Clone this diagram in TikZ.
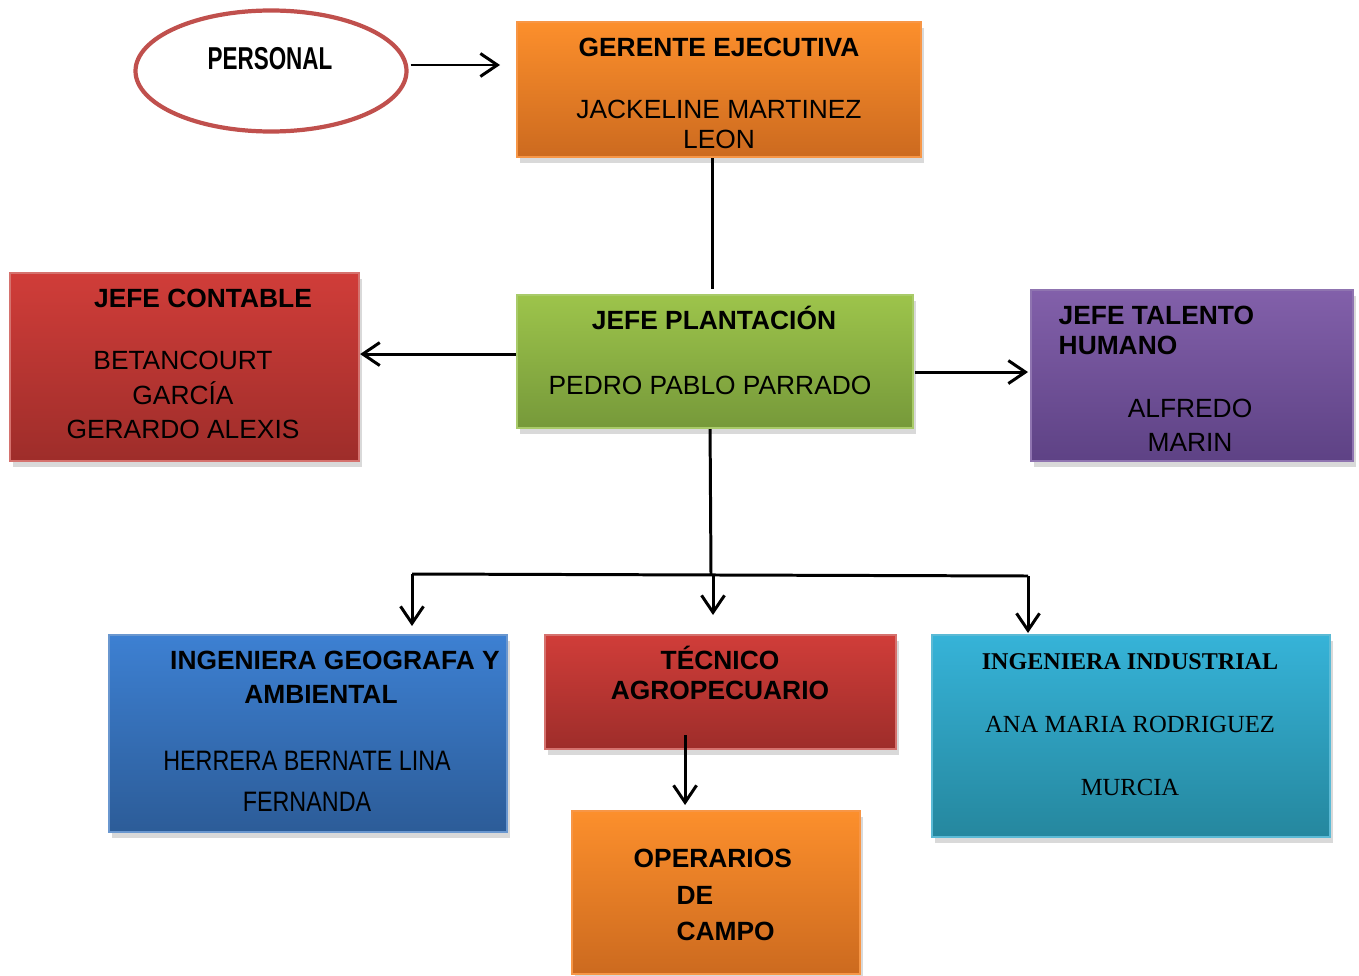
\documentclass[tikz,border=0pt]{standalone}
\usepackage{fontspec}
\setmainfont{Liberation Sans}
\newfontfamily\indserif{Liberation Serif}
\newfontfamily\narrowsans[FakeStretch=0.83]{Liberation Sans}
\newfontfamily\personalsans[FakeStretch=0.71]{Liberation Sans}
\usetikzlibrary{positioning,shapes.geometric,shadows,arrows.meta}

\definecolor{orangetop}{HTML}{FC8F2C}
\definecolor{orangebot}{HTML}{CC6A1F}
\definecolor{orangeline}{HTML}{F79646}
\definecolor{greentop}{HTML}{9DC44B}
\definecolor{greenbot}{HTML}{76993A}
\definecolor{greenline}{HTML}{A9CB6A}
\definecolor{redtop}{HTML}{D03D39}
\definecolor{redbot}{HTML}{9E2D2A}
\definecolor{redline}{HTML}{D5726E}
\definecolor{purpletop}{HTML}{8260AA}
\definecolor{purplebot}{HTML}{5E4285}
\definecolor{purpleline}{HTML}{8F74B0}
\definecolor{bluetop}{HTML}{3D80D2}
\definecolor{bluebot}{HTML}{2C5C98}
\definecolor{blueline}{HTML}{6A97CF}
\definecolor{tealtop}{HTML}{36B3D8}
\definecolor{tealbot}{HTML}{25879E}
\definecolor{tealline}{HTML}{5BBAD5}
\definecolor{personalline}{HTML}{C0504D}

\begin{document}
\begin{tikzpicture}[x=0.1mm, y=-0.1mm,
				box/.style={rectangle, anchor=north west, line width=0.6pt, inner sep=0pt, drop shadow={shadow xshift=0.3mm, shadow yshift=-0.6mm, opacity=0.3}},
				orangebox/.style={box, draw=orangeline, top color=orangetop, bottom color=orangebot},
				greenbox/.style={box, draw=greenline, top color=greentop, bottom color=greenbot},
				redbox/.style={box, draw=redline, top color=redtop, bottom color=redbot},
				purplebox/.style={box, draw=purpleline, top color=purpletop, bottom color=purplebot},
				bluebox/.style={box, draw=blueline, top color=bluetop, bottom color=bluebot},
				tealbox/.style={box, draw=tealline, top color=tealtop, bottom color=tealbot},
				titletext/.style={font=\bfseries\fontsize{7.5}{#1}\selectfont, align=center, inner sep=0pt},
				titletext/.default=8.5,
				nametext/.style={font=\fontsize{7.5}{#1}\selectfont, align=center, inner sep=0pt},
				nametext/.default=8.5,
				link/.style={line width=0.85pt},
				arr/.style={link, -{Straight Barb[length=1.7mm,width=2.3mm]}}
			]
			\useasboundingbox (0,0) rectangle (1359,975);
			\node[ellipse, draw=personalline, line width=1.2pt, minimum width=27.1mm, minimum height=12.1mm, inner sep=0pt] (personal) at (271,71) {};
			\node[font=\personalsans\bfseries\fontsize{9}{10}\selectfont, inner sep=0pt] (personaltext) at (270,59) {PERSONAL};
			\node[orangebox, minimum width=40.4mm, minimum height=13.5mm] (gerente) at (516,21) {};
			\node[greenbox, minimum width=39.6mm, minimum height=13.3mm] (plantacion) at (516,294) {};
			\node[redbox, minimum width=34.9mm, minimum height=18.8mm] (contable) at (9,272) {};
			\node[purplebox, minimum width=32.2mm, minimum height=17.1mm] (talento) at (1030,289) {};
			\node[bluebox, minimum width=39.8mm, minimum height=19.7mm] (geografa) at (108,634) {};
			\node[redbox, minimum width=35.1mm, minimum height=11.4mm] (tecnico) at (544,634) {};
			\node[orangebox, minimum width=28.8mm, minimum height=16.3mm] (operarios) at (571,810) {};
			\node[tealbox, minimum width=39.8mm, minimum height=20.2mm] (industrial) at (931,634) {};
			\node[titletext] (gerentetitle) at (719,47) {GERENTE EJECUTIVA};
			\node[nametext] (gerentename) at (719,124) {JACKELINE MARTINEZ\\LEON};
			\node[titletext] (plantaciontitle) at (714,318) {JEFE PLANTACIÓN};
			\node[nametext] (plantacionname) at (710,385) {PEDRO PABLO PARRADO};
			\node[titletext] (contabletitle) at (203,298) {JEFE CONTABLE};
			\node[nametext=9.8] (contablename) at (183,395) {BETANCOURT\\GARCÍA\\GERARDO ALEXIS};
			\node[titletext, align=left, anchor=west] (talentotitle) at (1058,330) {JEFE TALENTO\\HUMANO};
			\node[nametext=9.7] (talentoname) at (1190,425) {ALFREDO\\MARIN};
			\node[titletext] (geografatitle) at (335,660) {INGENIERA GEOGRAFA Y};
			\node[titletext] (geografatitletwo) at (321,694) {AMBIENTAL};
			\node[nametext, font=\narrowsans\fontsize{8}{11.7}\selectfont] (geografaname) at (307,781) {HERRERA BERNATE LINA\\FERNANDA};
			\node[titletext] (tecnicotitle) at (720,673) {TÉCNICO\\AGROPECUARIO};
			\node[titletext=10.5, align=left, anchor=west] (operariostitle) at (633,895) {OPERARIOS\\\hspace*{12.2pt}DE\\\hspace*{12.2pt}CAMPO};
			\node[titletext, font=\indserif\bfseries\fontsize{6.85}{8}\selectfont] (industrialtitle) at (1130,662) {INGENIERA INDUSTRIAL};
			\node[nametext, font=\indserif\fontsize{7}{17.8}\selectfont] (industrialname) at (1130,756) {ANA MARIA RODRIGUEZ\\MURCIA};
			\coordinate (p1) at ([shift={(2,-6)}]personal.east);
			\coordinate (g1) at ([xshift=-0.7mm]gerente.south);
			\coordinate (c1) at ([yshift=0.75mm]plantacion.west);
			\coordinate (t1) at ([shift={(1,10.5)}]plantacion.east);
			\coordinate (b1) at ([xshift=-0.5mm]plantacion.south);
			\coordinate (bus) at (711,575);
			\coordinate (busc) at (713,575);
			\coordinate (busl) at (412,574);
			\coordinate (busr) at (1028,576);
			\coordinate (o1) at ([shift={(-35.5,-15)}]tecnico.south);
			\begin{scope}[link]
			\draw[arr, shorten >=1.6mm] (p1) -- (p1 -| gerente.west);
			\draw[shorten >=0.5mm] (g1) -- (g1 |- plantacion.north);
			\draw[arr] (c1) -- (c1 -| contable.east);
			\draw[arr, shorten >=0.2mm] (t1) -- (t1 -| talento.west);
			\draw (b1) -- (bus);
			\draw (busl) -- (busr);
			\draw[arr, shorten >=0.8mm] (busl) -- (busl |- geografa.north);
			\draw[arr, shorten >=1.9mm] (busc) -- (busc |- tecnico.north);
			\draw[arr, shorten >=0.1mm] (busr) -- (busr |- industrial.north);
			\draw[arr, shorten >=0.5mm] (o1) -- (o1 |- operarios.north);
			\end{scope}
\end{tikzpicture}
\end{document}
